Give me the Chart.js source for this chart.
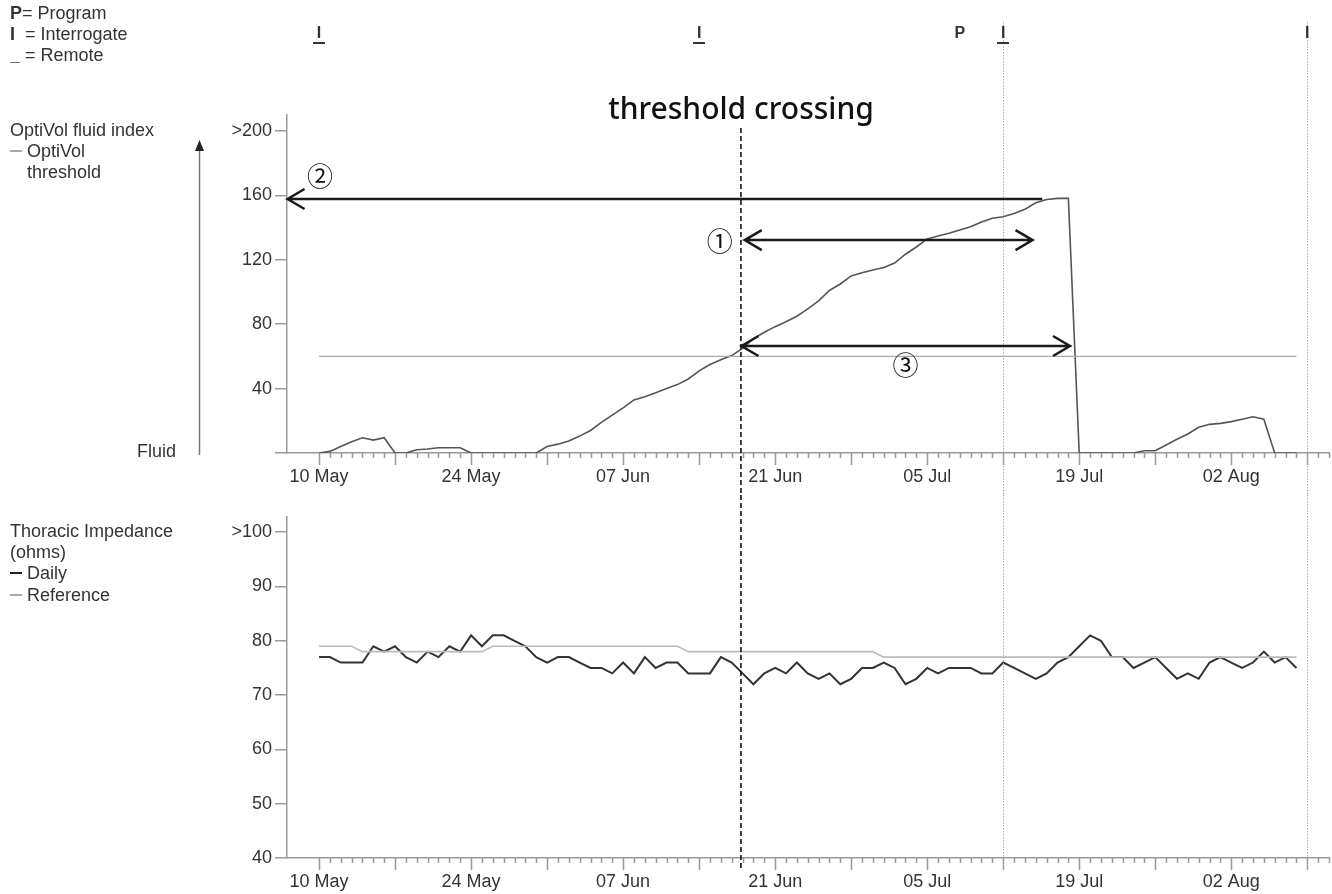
<!DOCTYPE html>
<html>
<head>
<meta charset="utf-8">
<script src="https://cdn.jsdelivr.net/npm/chart.js@4.4.1/dist/chart.umd.min.js"></script>
<style>
  body { margin: 0; background: #fff; width: 1332px; height: 894px; overflow: hidden; position: relative;
         font-family: "Liberation Sans", Arial, sans-serif; color: #333; }
  canvas { position: absolute; left: 0; }
  #top { top: 0; }
  #bot { top: 495px; }
  .lbl { position: absolute; font-size: 18px; line-height: 21px; white-space: nowrap; }
  .dash { display: inline-block; width: 12px; height: 2px; vertical-align: middle; margin-right: 5px; position: relative; top: -1px; }
  #title { position: absolute; left: 741px; top: 107px; transform: translate(-50%, -50%);
           font-family: "Noto Sans", sans-serif; font-weight: 500; font-size: 30px; color: #111; white-space: nowrap; }
</style>
</head>
<body>
<canvas id="top" width="1332" height="495"></canvas>
<canvas id="bot" width="1332" height="399"></canvas>

<div class="lbl" style="left:10px;top:3px"><b>P</b>= Program</div>
<div class="lbl" style="left:10px;top:24px"><b>I</b>&nbsp; = Interrogate</div>
<div class="lbl" style="left:10px;top:45px"><b>_</b> = Remote</div>

<div class="lbl" style="left:10px;top:120px">OptiVol fluid index</div>
<div class="lbl" style="left:10px;top:141px"><span class="dash" style="background:#aaa"></span>OptiVol</div>
<div class="lbl" style="left:27px;top:162px">threshold</div>
<div class="lbl" style="left:137px;top:441px">Fluid</div>

<div class="lbl" style="left:10px;top:521px">Thoracic Impedance</div>
<div class="lbl" style="left:10px;top:542px">(ohms)</div>
<div class="lbl" style="left:10px;top:563px"><span class="dash" style="background:#222"></span>Daily</div>
<div class="lbl" style="left:10px;top:585px"><span class="dash" style="background:#aaa"></span>Reference</div>

<div id="title">threshold crossing</div>

<script>
// day 0 = 10 May, one value per day up to day 90 (08 Aug)
const labelDays = [0, 14, 28, 42, 56, 70, 84];
const dateLabels = ['10 May', '24 May', '07 Jun', '21 Jun', '05 Jul', '19 Jul', '02 Aug'];

const fluidIndex = [
  0, 1, 4, 7, 9.5, 8, 9.5, 0, 0, 2,
  2.5, 3.3, 3.3, 3.3, 0, 0, 0, 0, 0, 0,
  0, 4, 5.5, 7.5, 10.5, 14, 19, 23.5, 28, 33,
  35, 37.5, 40, 42.5, 46, 51, 55, 58, 60.5, 65,
  71, 75, 78.5, 81.5, 85, 89.5, 94.5, 101, 105, 110,
  112, 113.7, 115.3, 118, 123.5, 128, 133, 134.8, 136.5, 138.5,
  140.6, 143.5, 145.8, 146.8, 148.8, 151.5, 155.5, 157.5, 158.2, 158.2,
  0, 0, 0, 0, 0, 0, 1.4, 1.4, 5, 8.5,
  11.8, 16, 17.8, 18.4, 19.5, 21, 22.5, 21, 0, 0, 0
];
const thresholdDays = [0, 90];
const thresholdValues = [60, 60];

const dailyImpedance = [
  77, 77, 76, 76, 76, 79, 78, 79, 77, 76,
  78, 77, 79, 78, 81, 79, 81, 81, 80, 79,
  77, 76, 77, 77, 76, 75, 75, 74, 76, 74,
  77, 75, 76, 76, 74, 74, 74, 77, 76, 74,
  72, 74, 75, 74, 76, 74, 73, 74, 72, 73,
  75, 75, 76, 75, 72, 73, 75, 74, 75, 75,
  75, 74, 74, 76, 75, 74, 73, 74, 76, 77,
  79, 81, 80, 77, 77, 75, 76, 77, 75, 73,
  74, 73, 76, 77, 76, 75, 76, 78, 76, 77, 75
];
const referenceImpedance = [
  79, 79, 79, 79, 78, 78, 78, 78, 78, 78,
  78, 78, 78, 78, 78, 78, 79, 79, 79, 79,
  79, 79, 79, 79, 79, 79, 79, 79, 79, 79,
  79, 79, 79, 79, 78, 78, 78, 78, 78, 78,
  78, 78, 78, 78, 78, 78, 78, 78, 78, 78,
  78, 78, 77, 77, 77, 77, 77, 77, 77, 77,
  77, 77, 77, 77, 77, 77, 77, 77, 77, 77,
  77, 77, 77, 77, 77, 77, 77, 77, 77, 77,
  77, 77, 77, 77, 77, 77, 77, 77, 77, 77, 77
];

const fluidTicks = [0, 40, 80, 120, 160, 200];
const fluidTickLabels = ['', '40', '80', '120', '160', '>200'];
const impTicks = [40, 50, 60, 70, 80, 90, 100];
const impTickLabels = ['40', '50', '60', '70', '80', '90', '>100'];

const events = [
  { day: 0, code: 'I', remote: true },
  { day: 35, code: 'I', remote: true },
  { day: 59, code: 'P', remote: false },
  { day: 63, code: 'I', remote: true },
  { day: 91, code: 'I', remote: false }
];
const eventLineDays = [63, 91];
const crossingDay = 38.85;

// annotation arrows in data units: [fromDay, toDay, value, headLeft, headRight]
const arrows = [
  [66.6, -2.9, 157.8, true, false],
  [39.2, 65.7, 132.3, true, true],
  [38.9, 69.15, 66.5, true, true]
];
const circleLabels = [['②', 0.1, 172], ['①', 36.9, 131.7], ['③', 54.0, 54.7]];

const FONT = '"Liberation Sans", Arial, sans-serif';
const pts = (vals, days) => vals.map((v, i) => ({ x: days ? days[i] : i, y: v }));

function drawDayTicks(ctx, x, y0) {
  ctx.save();
  ctx.strokeStyle = '#999';
  ctx.lineWidth = 1.5;
  ctx.beginPath();
  for (let d = 0; d <= Math.floor(x.max); d++) {
    const px = Math.round(x.getPixelForValue(d)) + 0.5;
    ctx.moveTo(px, y0);
    ctx.lineTo(px, y0 + (d % 7 === 0 ? 12 : 5));
  }
  ctx.stroke();
  ctx.restore();
}

function drawVLines(ctx, x, dashTop, dotTop, bottom) {
  ctx.save();
  ctx.strokeStyle = '#aaa';
  ctx.lineWidth = 1;
  ctx.setLineDash([1.5, 1.5]);
  eventLineDays.forEach((d) => {
    const px = Math.round(x.getPixelForValue(d)) + 0.5;
    ctx.beginPath(); ctx.moveTo(px, dotTop); ctx.lineTo(px, bottom); ctx.stroke();
  });
  ctx.strokeStyle = '#111';
  ctx.lineWidth = 1.6;
  ctx.setLineDash([5, 3]);
  const cx = x.getPixelForValue(crossingDay);
  ctx.beginPath(); ctx.moveTo(cx, dashTop); ctx.lineTo(cx, bottom); ctx.stroke();
  ctx.restore();
}

function head(ctx, tx, ty, dir) {
  ctx.moveTo(tx - dir * 17, ty - 10);
  ctx.lineTo(tx, ty);
  ctx.lineTo(tx - dir * 17, ty + 10);
}

const topDecor = {
  id: 'topDecor',
  afterDraw(chart) {
    const { ctx, scales: { x, y } } = chart;
    drawDayTicks(ctx, x, y.bottom);
    drawVLines(ctx, x, 128, 22, chart.height);

    // arrows
    ctx.save();
    ctx.strokeStyle = '#1a1a1a';
    ctx.lineWidth = 2.5;
    ctx.lineJoin = 'miter';
    arrows.forEach(([a, b, v, hl, hr]) => {
      const pa = x.getPixelForValue(a), pb = x.getPixelForValue(b), py = y.getPixelForValue(v);
      const l = Math.min(pa, pb), r = Math.max(pa, pb);
      ctx.beginPath();
      ctx.moveTo(l, py); ctx.lineTo(r, py);
      if (hl) head(ctx, l, py, -1);
      if (hr) head(ctx, r, py, 1);
      ctx.stroke();
    });
    ctx.fillStyle = '#111';
    ctx.font = '26px "Noto Sans CJK JP", sans-serif';
    ctx.textAlign = 'center';
    ctx.textBaseline = 'middle';
    circleLabels.forEach(([t, d, v]) => ctx.fillText(t, x.getPixelForValue(d), y.getPixelForValue(v)));

    // session markers
    ctx.font = 'bold 16px ' + FONT;
    ctx.fillStyle = '#333';
    events.forEach((e) => {
      const px = x.getPixelForValue(e.day);
      ctx.fillText(e.code, px, 34);
      if (e.remote) ctx.fillRect(Math.round(px) - 6, 42, 12, 2);
    });

    // fluid direction arrow
    const ax = 199.5;
    ctx.strokeStyle = '#777';
    ctx.lineWidth = 1.5;
    ctx.beginPath(); ctx.moveTo(ax, y.getPixelForValue(0) + 2); ctx.lineTo(ax, 150); ctx.stroke();
    ctx.fillStyle = '#222';
    ctx.beginPath(); ctx.moveTo(ax, 140); ctx.lineTo(ax - 4.5, 151); ctx.lineTo(ax + 4.5, 151); ctx.closePath(); ctx.fill();
    ctx.restore();
  }
};

const botDecor = {
  id: 'botDecor',
  afterDraw(chart) {
    const { ctx, scales: { x, y } } = chart;
    drawDayTicks(ctx, x, y.bottom);
    drawVLines(ctx, x, 0, 0, 375);
  }
};

function xScale(h) {
  return {
    type: 'linear', min: -2.95, max: 93,
    afterBuildTicks: (s) => { s.ticks = labelDays.map((v) => ({ value: v })); },
    afterFit: (s) => { s.height = h; },
    ticks: { callback: (v, i) => dateLabels[i], color: '#333', font: { family: FONT, size: 18 }, padding: 5, maxRotation: 0, autoSkip: false },
    grid: { display: false },
    border: { color: '#999', width: 1.5 }
  };
}

function yScale(min, max, ticks, labels) {
  return {
    min, max,
    afterBuildTicks: (s) => { s.ticks = ticks.map((v) => ({ value: v })); },
    afterFit: (s) => { s.width = 287; },
    ticks: { callback: (v, i) => labels[i], color: '#333', font: { family: FONT, size: 18 }, padding: 3 },
    grid: { drawOnChartArea: false, tickLength: 12, color: '#999', lineWidth: 1.5 },
    border: { color: '#999', width: 1.5 }
  };
}

const common = {
  responsive: false,
  animation: false,
  plugins: { legend: { display: false }, tooltip: { enabled: false } },
  elements: { point: { radius: 0 }, line: { tension: 0 } }
};

new Chart(document.getElementById('top'), {
  type: 'line',
  data: {
    datasets: [
      { data: pts(thresholdValues, thresholdDays), borderColor: '#aaa', borderWidth: 1.2 },
      { data: pts(fluidIndex), borderColor: '#555', borderWidth: 1.6 }
    ]
  },
  options: {
    ...common,
    layout: { padding: { top: 115, right: 3, left: 0, bottom: 0 } },
    scales: { x: xScale(42), y: yScale(0, 210, fluidTicks, fluidTickLabels) }
  },
  plugins: [topDecor]
});

new Chart(document.getElementById('bot'), {
  type: 'line',
  data: {
    datasets: [
      { data: pts(referenceImpedance), borderColor: '#bbb', borderWidth: 1.6 },
      { data: pts(dailyImpedance), borderColor: '#333', borderWidth: 2 }
    ]
  },
  options: {
    ...common,
    layout: { padding: { top: 22, right: 3, left: 0, bottom: 0 } },
    scales: { x: xScale(36), y: yScale(40, 102.8, impTicks, impTickLabels) }
  },
  plugins: [botDecor]
});
</script>
</body>
</html>
